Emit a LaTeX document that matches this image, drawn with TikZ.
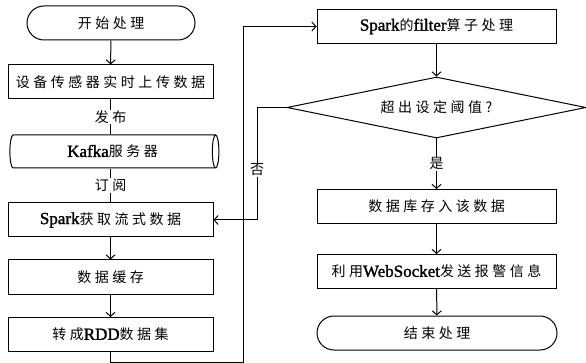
\documentclass[tikz,border=0pt]{standalone}
\usepackage{fontspec}
\setmainfont{Liberation Serif}
\newfontfamily\cjk[LetterSpace=25]{Noto Sans CJK SC}
\newfontfamily\latn[FakeBold=1.5]{Liberation Serif}
\usetikzlibrary{shapes.geometric,shapes.misc,arrows.meta}
\newcommand\zh[1]{{\cjk\fontsize{14}{16}\selectfont #1}}
\newcommand\en[1]{{\latn\fontsize{17}{19}\selectfont #1}}
\begin{document}
\begin{tikzpicture}[x=1pt,y=-1pt,line width=1pt,
  >={Straight Barb[length=4pt,width=9pt]},
  lbox/.style={draw,rectangle,minimum width=205pt,minimum height=34pt,inner sep=0pt},
  rbox/.style={draw,rectangle,minimum width=239pt,minimum height=34pt,inner sep=0pt},
  term/.style={draw,rounded rectangle,minimum height=34pt,inner sep=0pt},
  lbl/.style={fill=white,inner sep=1pt}]
\useasboundingbox (0,0) rectangle (586,363);
% left column
\node[term,minimum width=168pt] (start) at (111,23) {\zh{开始处理}};
\node[lbox] (sensor) at (110.5,82) {\zh{设备传感器实时上传数据}};
\node[draw,cylinder,shape border rotate=0,aspect=0.5,minimum height=209pt,minimum width=33pt,inner sep=0pt] (kafka) at (112.5,151.5) {\en{Kafka}\zh{服务器}};
\node[lbox] (spark) at (110.5,220) {\en{Spark}\zh{获取流式数据}};
\node[lbox] (cache) at (110.5,277) {\zh{数据缓存}};
\node[lbox] (rdd) at (110.5,334.5) {\zh{转成}\en{RDD}\zh{数据集}};
% right column
\node[rbox] (filter) at (436.5,26.5) {\en{Spark}\zh{的}\en{filter}\zh{算子处理}};
\node[draw,diamond,aspect=4.9,minimum width=299pt,minimum height=61pt,inner sep=0pt] (dia) at (436.5,107.5) {\zh{超出设定阈值?}};
\node[rbox] (db) at (436.5,206.5) {\zh{数据库存入该数据}};
\node[rbox] (ws) at (436.5,271.5) {\zh{利用}\en{WebSocket}\zh{发送报警信息}};
\node[term,minimum width=240pt] (end) at (437,333) {\zh{结束处理}};
% connectors
\coordinate (c1) at (243,362);
\coordinate (c2) at (257,220);
\draw[->] (start) -- (sensor);
\draw (sensor.south) -- node[lbl] (pub) {\zh{发布}} (sensor.south |- kafka.north);
\draw (sensor.south |- kafka.south) -- node[lbl] (sub) {\zh{订阅}} (spark.north);
\draw[->] (spark) -- (cache);
\draw[->] (cache) -- (rdd);
\draw[->] (rdd.south) |- (c1) |- (filter.west);
\draw[->] (filter) -- (dia);
\draw[->] (dia.south) -- node[lbl] (yes) {\zh{是}} (db.north);
\draw[->] (dia.west) -| (c2) -- (spark.east);
\node[lbl] (no) at (257,170) {\zh{否}};
\draw[->] (db) -- (ws);
\draw[->] (ws) -- (end);
\end{tikzpicture}
\end{document}
